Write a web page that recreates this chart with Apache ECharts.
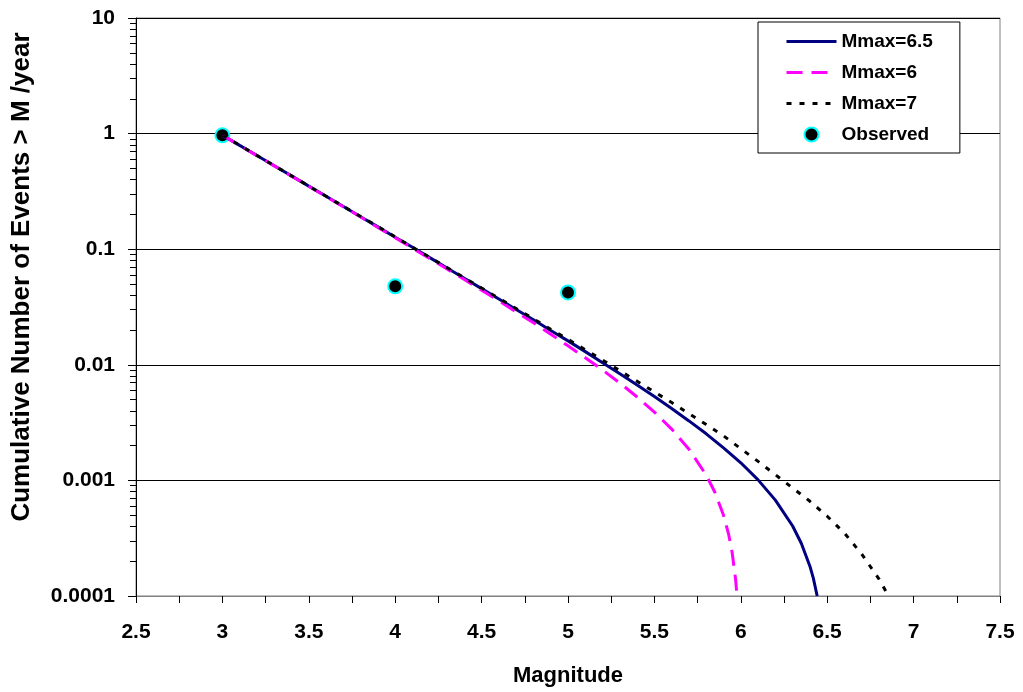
<!DOCTYPE html>
<html>
<head>
<meta charset="utf-8">
<script src="https://cdn.jsdelivr.net/npm/echarts@6/dist/echarts.min.js"></script>
<style>
  html, body { margin: 0; padding: 0; background: #fff; }
  #chart { width: 1023px; height: 692px; }
</style>
</head>
<body>
<div id="chart"></div>
<script>
// magnitudes and rates
const magMmax65 = [3.0, 3.1, 3.2, 3.3, 3.4, 3.5, 3.6, 3.7, 3.8, 3.9, 4.0, 4.1, 4.2, 4.3, 4.4, 4.5, 4.6, 4.7, 4.8, 4.9, 5.0,
  5.1, 5.2, 5.3, 5.4, 5.5, 5.6, 5.7, 5.8, 5.9, 6.0, 6.1, 6.2, 6.3, 6.35, 6.4, 6.42, 6.442];
const rateMmax65 = [0.969, 0.791, 0.646, 0.527, 0.431, 0.351, 0.287, 0.234, 0.191, 0.156, 0.127, 0.104, 0.0845, 0.0688, 0.0560, 0.0456, 0.0371, 0.0301, 0.0245, 0.0198, 0.0161,
  0.0130, 0.0104, 0.00837, 0.00669, 0.00531, 0.00419, 0.00327, 0.00253, 0.00191, 0.00142, 0.00101, 0.000675, 0.000403, 0.000286, 0.000181, 0.000142, 0.0001];

const magMmax6 = [3.0, 3.1, 3.2, 3.3, 3.4, 3.5, 3.6, 3.7, 3.8, 3.9, 4.0, 4.1, 4.2, 4.3, 4.4, 4.5, 4.6, 4.7, 4.8, 4.9, 5.0,
  5.1, 5.2, 5.3, 5.4, 5.5, 5.6, 5.7, 5.8, 5.85, 5.9, 5.93, 5.95, 5.97, 5.978];
const rateMmax6 = [0.968, 0.790, 0.645, 0.526, 0.429, 0.350, 0.285, 0.233, 0.190, 0.154, 0.126, 0.102, 0.0830, 0.0674, 0.0546, 0.0442, 0.0357, 0.0287, 0.0231, 0.0184, 0.0146,
  0.0115, 0.00902, 0.00696, 0.00527, 0.00390, 0.00278, 0.00186, 0.00111, 0.00079, 0.000499, 0.000339, 0.000237, 0.000139, 0.0001];

const magMmax7 = [3.0, 3.1, 3.2, 3.3, 3.4, 3.5, 3.6, 3.7, 3.8, 3.9, 4.0, 4.1, 4.2, 4.3, 4.4, 4.5, 4.6, 4.7, 4.8, 4.9, 5.0,
  5.1, 5.2, 5.3, 5.4, 5.5, 5.6, 5.7, 5.8, 5.9, 6.0, 6.1, 6.2, 6.3, 6.4, 6.5, 6.6, 6.7, 6.8, 6.855];
const rateMmax7 = [0.970, 0.792, 0.647, 0.528, 0.431, 0.352, 0.287, 0.235, 0.192, 0.157, 0.128, 0.104, 0.0850, 0.0693, 0.0566, 0.0461, 0.0376, 0.0306, 0.0250, 0.0203, 0.0166,
  0.0135, 0.0110, 0.00889, 0.00720, 0.00583, 0.00471, 0.00379, 0.00304, 0.00243, 0.00188, 0.00146, 0.00112, 0.00086, 0.00066, 0.00049, 0.00035, 0.00023, 0.00014, 0.0001];

const obsMag = [3, 4, 5];
const obsRate = [0.967, 0.0477, 0.0423];

const xTickLabels = ['2.5', '3', '3.5', '4', '4.5', '5', '5.5', '6', '6.5', '7', '7.5'];
const yTickLabels = ['0.0001', '0.001', '0.01', '0.1', '1', '10'];

const pairs = (xs, ys) => xs.map((x, i) => [x, ys[i]]);

const font = "Arial, 'Liberation Sans', sans-serif";
let myChart = echarts.init(document.getElementById('chart'));
myChart.setOption({
  backgroundColor: '#fff',
  animation: false,
  textStyle: { fontFamily: font },
  grid: {
    left: 136,
    right: 23,
    top: 18,
    bottom: 95,
    show: true,
    borderColor: '#808080',
    borderWidth: 1
  },
  graphic: [
    {
      type: 'text',
      x: 22,
      y: 277,
      rotation: Math.PI / 2,
      style: {
        text: 'Cumulative Number of Events > M /year',
        fontSize: 26,
        fontWeight: 'bold',
        fontFamily: font,
        fill: '#000',
        align: 'center',
        verticalAlign: 'middle'
      }
    }
  ],
  legend: {
    orient: 'vertical',
    left: 758,
    top: 22,
    padding: [10, 27, 9, 27],
    backgroundColor: '#fff',
    borderColor: '#000',
    borderWidth: 1,
    borderRadius: 0,
    itemWidth: 50,
    itemHeight: 14,
    itemGap: 12,
    selectedMode: false,
    lineStyle: { width: 3 },
    textStyle: { fontSize: 19, fontWeight: 'bold', color: '#000', fontFamily: font },
    data: [
      { name: 'Mmax=6.5', itemStyle: { opacity: 0 } },
      { name: 'Mmax=6', itemStyle: { opacity: 0 } },
      { name: 'Mmax=7', itemStyle: { opacity: 0 } },
      'Observed'
    ]
  },
  xAxis: {
    type: 'value',
    min: 2.5,
    max: 7.5,
    interval: 0.5,
    name: 'Magnitude',
    nameLocation: 'middle',
    nameGap: 69,
    nameTextStyle: { fontSize: 22, fontWeight: 'bold', color: '#000' },
    axisLine: { onZero: false, lineStyle: { color: '#808080', width: 1 } },
    axisTick: { show: true, length: 7, lineStyle: { color: '#000' } },
    minorTick: { show: true, splitNumber: 2, length: 7, lineStyle: { color: '#000' } },
    splitLine: { show: false },
    axisLabel: {
      margin: 26,
      fontSize: 21,
      fontWeight: 'bold',
      color: '#000',
      formatter: v => xTickLabels[Math.round((v - 2.5) / 0.5)]
    }
  },
  yAxis: {
    type: 'log',
    logBase: 10,
    min: 0.0001,
    max: 10,
    axisLine: { lineStyle: { color: '#000', width: 1 } },
    axisTick: { show: true, length: 8, lineStyle: { color: '#000' } },
    minorTick: { show: true, splitNumber: 9, length: 6, lineStyle: { color: '#000' } },
    splitLine: { show: true, lineStyle: { color: '#000', width: 1 } },
    axisLabel: {
      margin: 21,
      fontSize: 21,
      fontWeight: 'bold',
      color: '#000',
      formatter: v => yTickLabels[Math.round(Math.log10(v)) + 4]
    }
  },
  series: [
    {
      name: 'Mmax=6.5',
      type: 'line',
      data: pairs(magMmax65, rateMmax65),
      symbol: 'none',
      lineStyle: { color: '#000080', width: 3 },
      itemStyle: { color: '#000080' }
    },
    {
      name: 'Mmax=6',
      type: 'line',
      data: pairs(magMmax6, rateMmax6),
      symbol: 'none',
      lineStyle: { color: '#FF00FF', width: 3, type: [16, 9] },
      itemStyle: { color: '#FF00FF' }
    },
    {
      name: 'Mmax=7',
      type: 'line',
      data: pairs(magMmax7, rateMmax7),
      symbol: 'none',
      lineStyle: { color: '#000', width: 3, type: [5, 8] },
      itemStyle: { color: '#000' }
    },
    {
      name: 'Observed',
      type: 'scatter',
      data: pairs(obsMag, obsRate),
      symbol: 'circle',
      symbolSize: 14,
      itemStyle: { color: '#000', opacity: 1, borderColor: '#00FFFF', borderWidth: 2 }
    }
  ]
});
</script>
</body>
</html>
